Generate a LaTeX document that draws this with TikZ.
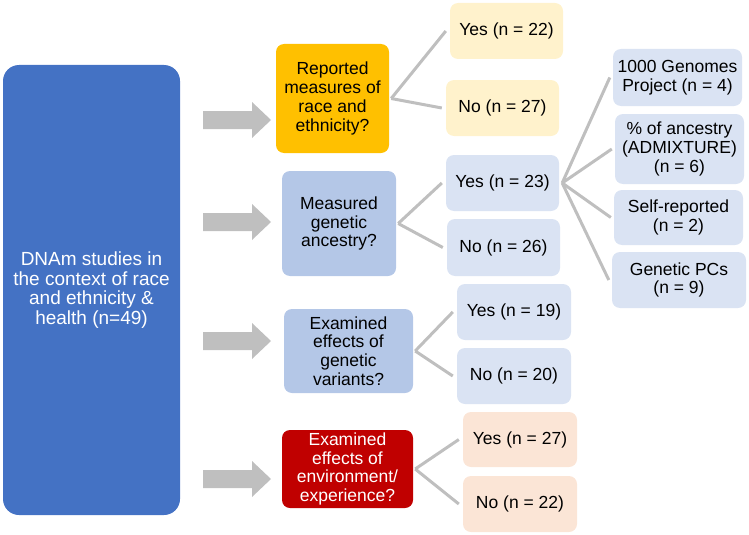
\documentclass[tikz,border=0pt]{standalone}
\usepackage{fontspec}
\setmainfont{Liberation Sans}
\definecolor{mainblue}{HTML}{4472C4}
\definecolor{qorange}{HTML}{FFC000}
\definecolor{qblue}{HTML}{B4C7E7}
\definecolor{lblue}{HTML}{DAE3F3}
\definecolor{lyellow}{HTML}{FFF2CC}
\definecolor{qred}{HTML}{C00000}
\definecolor{lpeach}{HTML}{FBE5D6}
\definecolor{agray}{HTML}{BFBFBF}
\tikzset{
  box/.style={rectangle, rounded corners=8pt, inner sep=0pt, align=center,
    font=\fontsize{17.5}{18.7}\selectfont},
  mainbox/.style={box, fill=mainblue, text=white, rounded corners=16pt,
    font=\fontsize{19}{19.5}\selectfont},
  qbox/.style={box, text=black},
  ansbox/.style={box, text=black},
  conn/.style={draw=agray, line width=3pt},
  bigarrow/.style={fill=agray},
}
\begin{document}
\begin{tikzpicture}[x=1pt,y=-1pt]
\useasboundingbox (0,0) rectangle (749,535);
% main box
\node[mainbox, minimum width=177pt, minimum height=450pt] (main) at (91.5,290) {DNAm studies in\\the context of race\\and ethnicity \&\\health (n=49)};
% block arrows
\foreach \yy in {120,222,341,479}{
  \path[bigarrow] (203,\yy) ++(0,-9) -- ++(49,0) -- ++(0,-9) -- ++(19,18) -- ++(-19,18) -- ++(0,-9) -- ++(-49,0) -- cycle;
}
% question boxes
\node[qbox, fill=qorange, minimum width=113pt, minimum height=109pt] (q1) at (332.5,98.5) {Reported\\measures of\\race and\\ethnicity?};
\node[qbox, fill=qblue, minimum width=114pt, minimum height=105pt] (q2) at (339,223.5) {Measured\\genetic\\ancestry?};
\node[qbox, fill=qblue, minimum width=129pt, minimum height=84pt] (q3) at (348.5,351) {Examined\\effects of\\genetic\\variants?};
\node[qbox, fill=qred, text=white, minimum width=131pt, minimum height=78pt] (q4) at (347.5,469) {Examined\\effects of\\environment/\\experience?};
% answer boxes
\node[ansbox, fill=lyellow, minimum width=113pt, minimum height=56pt] (yes22) at (506.5,31) {Yes (n = 22)};
\node[ansbox, fill=lyellow, minimum width=113pt, minimum height=56pt] (no27) at (502.5,108) {No (n = 27)};
\node[ansbox, fill=lblue, minimum width=113pt, minimum height=56pt] (yes23) at (502.5,183) {Yes (n = 23)};
\node[ansbox, fill=lblue, minimum width=113pt, minimum height=57pt] (no26) at (503.5,247.5) {No (n = 26)};
\node[ansbox, fill=lblue, minimum width=114pt, minimum height=56pt] (yes19) at (514,312) {Yes (n = 19)};
\node[ansbox, fill=lblue, minimum width=114pt, minimum height=56pt] (no20) at (514,376) {No (n = 20)};
\node[ansbox, fill=lpeach, minimum width=114pt, minimum height=55pt] (yes27) at (520,439.5) {Yes (n = 27)};
\node[ansbox, fill=lpeach, minimum width=114pt, minimum height=56pt] (no22) at (520,504) {No (n = 22)};
% ancestry detail boxes
\node[ansbox, fill=lblue, minimum width=129pt, minimum height=57pt] (g1000) at (677.5,77.5) {1000 Genomes\\Project (n = 4)};
\node[ansbox, fill=lblue, minimum width=129pt, minimum height=70pt] (pct) at (679.5,149) {\% of ancestry\\(ADMIXTURE)\\(n = 6)};
\node[ansbox, fill=lblue, minimum width=129pt, minimum height=55pt] (selfr) at (678.5,217.5) {Self-reported\\(n = 2)};
\node[ansbox, fill=lblue, minimum width=134pt, minimum height=56pt] (pcs) at (679,280) {Genetic PCs\\(n = 9)};
% connectors
\foreach \p/\a/\b in {q1/yes22/no27, q2/yes23/no26, q3/yes19/no20, q4/yes27/no22}{
  \draw[conn] ([xshift=2pt]\p.east) -- ([xshift=-4pt]\a.west);
  \draw[conn] ([xshift=2pt]\p.east) -- ([xshift=-4pt]\b.west);
}
\foreach \c in {g1000,pct,selfr,pcs}{
  \draw[conn] ([xshift=3pt]yes23.east) -- ([xshift=-3pt]\c.west);
}
\end{tikzpicture}
\end{document}
